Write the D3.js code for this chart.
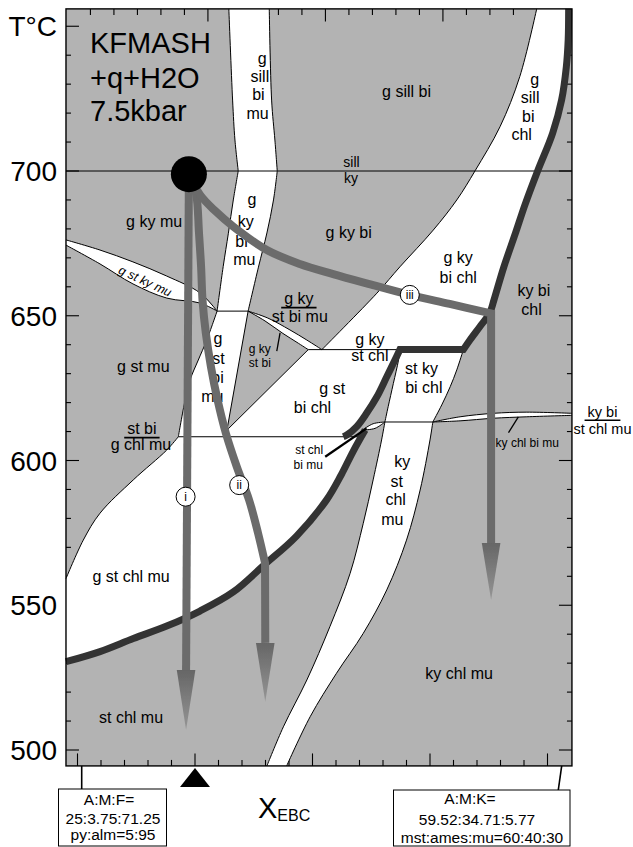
<!DOCTYPE html>
<html><head><meta charset="utf-8">
<script src="https://cdn.jsdelivr.net/npm/d3@7"></script>
<style>
html,body{margin:0;padding:0;background:#fff;}
svg{display:block;font-family:"Liberation Sans",Arial,Helvetica,sans-serif;}
</style></head><body>
<svg id="chart" width="633" height="847"></svg>
<script>
// ---- axes: composition X (0..100 along X_EBC) and temperature T (°C) ----
const xDomain = [-2.45, 105.2];
const tDomain = [494.5, 756];
const tempTicks = d3.range(500, 751, 10);
const tempMajor = [500, 550, 600, 650, 700, 750];
const tempLabels = ["500", "550", "600", "650", "700", "T°C"];
const compTicks = d3.range(0, 101, 5);
const compMajor = [0, 25, 50, 75, 100];
const topTicks = d3.range(2.75, 103, 5);
const topMajor = [27.75, 52.75, 77.75];
const bulkX = 25;
const sillKyT = 700;

// ---- field boundaries, [X, T] ----
const gSillBiMuL = [[32.2,756],[33.0,724.5],[33.5,710.7],[34.2,700]];
const gSillBiMuR = [[40.8,756],[41.3,724.5],[42.0,710.7],[42.5,700]];
const gKyBiMuL = [[34.2,700],[33.15,690],[32.1,678.5],[31.0,667],[29.7,651.6]];
const gKyBiMuR = [[42.5,700],[41.7,690],[40.3,678.6],[38.5,666.8],[36.3,651.6]];
const gStBiMuL = [[29.7,651.6],[27.5,641.6],[25.7,634.7],[23.94,627.8],[22.9,620.9],[21.45,608.2]];
const gStBiMuR = [[36.3,651.6],[31.8,610.5],[32.0,608.2]];
const gStKyMuUp = [[-2.45,676.2],[4.79,672.7],[11.8,668.6],[19.0,663.7],[26.06,657.9],[29.7,651.6]];
const gStKyMuLo = [[-2.45,674.4],[4.79,667.9],[11.8,661.0],[19.0,656.1],[26.06,654.4],[29.7,651.6]];
const gKyStBiMuUp = [[36.3,651.6],[40.5,649.2],[45.2,645.1],[48.8,641.6],[52.0,638.3]];
const gKyStBiMuLo = [[36.3,651.6],[39.9,648.2],[43.7,643.9],[46.7,640.8],[49.1,638.3]];
const gKyStChlT = 638.3;
const stChlSplit = [[49.1,638.3],[31.8,610.5]];
const stBiGChlMuT = 608.2;
const gStMuEdge = [[21.45,608.2],[18.98,603.6],[11.87,593.3],[4.79,581.8],[1.23,572.5],[-2.45,559.2]];
const biChlEdge = [[52.0,638.3],[63.7,657.8],[68.6,666.9],[75.7,679.6],[80.7,690.0],[84.6,700.1],[89.9,715.3],[94.1,732.6],[97.7,756]];
const thickUpperA = [[104.5,756],[104.4,745.3],[104.0,735.9],[103.0,724.5],[101.1,713.1],[97.9,700],[95.2,688.3],[93.2,678.6],[90.7,666.8],[88.6,655.4],[87.7,650.9],[85.6,646.2],[83.5,641.6],[82.1,638.3]];
const thickUpperB = [[68.6,638.3],[67.9,635.9],[65.8,628.9],[63.7,622.0],[61.5,616.3],[59.4,611.7],[57.3,608.8],[56.55,608.2]];
const thickLower = [[-2.45,530.5],[4.79,534.0],[11.87,538.5],[18.98,542.8],[26.06,548.0],[33.15,554.6],[39.5,563.6],[46.6,573.9],[53.0,586.4],[56.1,595.0],[58.6,603.0],[61.2,610.5]];
const stKyBiChlL = [[68.6,638.3],[68.3,634.7],[67.2,626.6],[66.1,618.6],[65.4,613.3]];
const stKyBiChlR = [[82.1,638.3],[80.7,631.3],[79.3,625.5],[77.5,619.2],[75.6,613.3]];
const kyStChlMuL = [[65.4,613.3],[64.7,607.1],[62.9,593.3],[60.8,578.3],[58.0,561.0],[53.7,542.6],[48.8,524.2],[43.8,508.0],[40.3,494.5]];
const kyStChlMuR = [[75.6,613.3],[75.0,607.1],[72.9,589.8],[70.0,572.5],[65.8,555.3],[60.8,540.3],[55.1,526.5],[49.5,511.5],[44.5,494.5]];
const stChlBiMuUp = [[60.6,610.5],[62.9,612.7],[65.4,613.3]];
const stChlBiMuLo = [[60.6,610.5],[63.3,611.1],[65.4,613.3]];
const kyChlBiMuUp = [[75.6,613.3],[81.4,615.1],[88.5,616.3],[95.6,616.7],[105.2,616.3]];
const kyChlBiMuLo = [[75.6,613.3],[81.4,613.7],[88.5,614.6],[95.6,615.1],[105.2,615.6]];

// ---- P-T-X paths from the starting point ----
const startPt = [23.7, 698.9];
const pathI = [[23.7,698.9],[23.1,527.6]];
const pathIHead = [[23.1,527.6],[23.1,506.9]];
const pathII = [[23.7,698.9],[25.2,692.4],[25.85,678.6],[26.3,666.8],[26.6,655.4],[27.3,644.0],[28.4,632.3],[29.8,620.9],[31.55,609.5],[33.9,597.8],[36.5,586.4],[38.4,575.0],[39.9,564.6]];
const pathIIHead = [[39.95,537.0],[39.95,516.7]];
const pathIII = [[23.7,698.9],[26.1,691.7],[29.3,686.2],[33.15,680.8],[40.3,672.7],[47.3,667.9],[54.4,664.4],[61.5,661.2],[70.7,657.2],[79.2,654.1],[88.0,650.8]];
const pathIIIHead = [[88.0,571.5],[88.0,551.8]];
const pathMarks = [["i",23.0,587.5],["ii",34.4,591.5],["iii",70.7,657.2]];

// ---- field labels: [text, X, T, size, underline] ----
const fieldLabels = [
  ["g",39.3,737.1,"f"],["sill",38.8,730.7,"f"],["bi",38.5,724.4,"f"],["mu",38.3,718.0,"f"],
  ["g sill bi",70.0,725.6,"f"],
  ["g",97.3,729.7,"f"],["sill",96.3,723.5,"f"],["bi",95.9,717.0,"f"],["chl",94.5,710.7,"f"],
  ["sill",58.3,701.5,"m"],["ky",58.2,696.0,"m"],
  ["g",37.1,688.3,"f"],["ky",35.8,680.7,"f"],["bi",34.9,673.9,"f"],["mu",35.5,667.5,"f"],
  ["g ky mu",16.3,680.7,"f"],
  ["g ky bi",57.7,676.8,"f"],
  ["g ky",81.0,668.1,"f"],["bi chl",81.0,661.2,"f"],
  ["ky bi",97.1,656.8,"f"],["chl",96.6,650.3,"f"],
  ["g ky",47.1,654.0,"f",1],["st bi mu",47.3,648.0,"f"],
  ["g ky",38.8,637.2,"s"],["st bi",38.8,632.4,"s"],
  ["g",29.9,640.2,"f"],["st",30.0,633.2,"f"],["bi",29.8,626.7,"f"],["mu",28.7,620.3,"f"],
  ["g ky",62.2,639.9,"f"],["st chl",62.2,634.5,"f"],
  ["g st",54.2,623.0,"f"],["bi chl",50.0,616.5,"f"],
  ["st ky",73.2,629.9,"f"],["bi chl",73.7,623.2,"f"],
  ["ky",69.1,597.9,"f"],["st",67.9,591.0,"f"],["chl",67.7,584.6,"f"],["mu",67.0,577.7,"f"],
  ["ky chl bi mu",95.7,604.8,"s"],
  ["ky bi",111.7,615.1,"e",1],["st chl mu",111.7,609.2,"e"],
  ["g st mu",14.0,630.7,"f"],
  ["st bi",13.7,609.1,"f",1],["g chl mu",13.5,603.6,"f"],
  ["st chl",49.3,602.1,"s"],["bi mu",49.1,597.0,"s"],
  ["ky chl mu",81.2,524.5,"f"],
  ["g st chl mu",11.4,558.1,"f"],
  ["st chl mu",11.4,509.4,"f"]
];
const labelSize = { f: 16, e: 14.5, m: 14, s: 12 };
const slantLabel = ["g st ky mu", 14.4, 662.0, 25];
const pointers = [
  [[43.1,644.1],[42.4,637.8],1],
  [[93.8,615.1],[91.7,609.6],1],
  [[52.7,601.3],[61.5,611.1],2]
];

// ---- scales ----
const svg = d3.select("#chart");
const x = d3.scaleLinear().domain([0, 100]).range([77.5, 547.5]);
const y = d3.scaleLinear().domain([500, 700]).range([750, 171]);
const fL = x(xDomain[0]), fR = x(xDomain[1]);
const fT = y(tDomain[1]), fB = y(tDomain[0]);

const lin = d3.line().x(d => x(d[0])).y(d => y(d[1]));
const crv = d3.line().x(d => x(d[0])).y(d => y(d[1])).curve(d3.curveCatmullRom.alpha(0.5));
const rev = a => a.slice().reverse();
function chain(parts) {
  return parts.map((p, i) => {
    const s = (p[1] ? crv : lin)(p[0]);
    return i ? s.replace(/^M/, "L") : s;
  }).join("");
}

const GRAY = "#b3b3b3", DARK = "#333333", PATH = "#6b6b6b";
const defs = svg.append("defs");
const grad = defs.append("linearGradient").attr("id", "headFill")
  .attr("x1", 0).attr("y1", 0).attr("x2", 0).attr("y2", 1);
grad.append("stop").attr("offset", 0).attr("stop-color", "#666");
grad.append("stop").attr("offset", 1).attr("stop-color", "#959595");
defs.append("filter").attr("id", "soft").attr("x", "-30%").attr("y", "-10%").attr("width", "160%").attr("height", "120%")
  .append("feGaussianBlur").attr("stdDeviation", 0.6);

// background field
svg.append("rect").attr("x", fL).attr("y", fT).attr("width", fR - fL).attr("height", fB - fT).attr("fill", GRAY);

// ticks
const tk = svg.append("g").attr("stroke", "#000").attr("stroke-width", 1.1);
tempTicks.forEach(t => {
  const L = tempMajor.includes(t) ? 13 : 5;
  tk.append("line").attr("x1", fL).attr("x2", fL + L).attr("y1", y(t)).attr("y2", y(t));
  tk.append("line").attr("x1", fR).attr("x2", fR - L).attr("y1", y(t)).attr("y2", y(t));
});
compTicks.forEach(v => {
  const L = compMajor.includes(v) ? 12.5 : 6;
  tk.append("line").attr("x1", x(v)).attr("x2", x(v)).attr("y1", fB).attr("y2", fB - L);
});
topTicks.forEach(v => {
  const L = topMajor.includes(v) ? 12.5 : 6;
  tk.append("line").attr("x1", x(v)).attr("x2", x(v)).attr("y1", fT).attr("y2", fT + L);
});

// white (narrow) fields
const gThick = thickLower.filter(d => d[1] < stBiGChlMuT);
const whitePaths = [
  chain([[gSillBiMuL,1],[gKyBiMuL,1],[gStBiMuL,1],[[[21.45,stBiGChlMuT],[32.0,stBiGChlMuT]],0],[rev(gStBiMuR),0],[rev(gKyBiMuR),1],[rev(gSillBiMuR),1]]) + "Z",
  chain([[gStKyMuUp,1],[rev(gStKyMuLo),1]]) + "Z",
  chain([[gKyStBiMuUp,1],[rev(gKyStBiMuLo),1]]) + "Z",
  chain([[[stChlSplit[0], stChlSplit[1], [32.0,stBiGChlMuT], [56.55,stBiGChlMuT]],0],[rev(thickUpperB),1],[[[68.6,gKyStChlT],[82.1,gKyStChlT]],0],[rev(thickUpperA),1],[[[104.5,756],[97.7,756]],0],[rev(biChlEdge),1]]) + "Z",
  chain([[gStMuEdge,1],[[[-2.45,559.2],[-2.45,530.5]],0],[gThick,1],[[gThick[gThick.length-1],[60.4,stBiGChlMuT]],0]]) + "Z",
  chain([[[[68.6,gKyStChlT],[82.1,gKyStChlT]],0],[stKyBiChlR,1],[[[75.6,613.3],[65.4,613.3]],0],[rev(stKyBiChlL),1]]) + "Z",
  chain([[kyStChlMuL,1],[[[40.3,494.5],[44.5,494.5]],0],[rev(kyStChlMuR),1]]) + "Z",
  chain([[stChlBiMuUp,1],[rev(stChlBiMuLo),1]]) + "Z",
  chain([[kyChlBiMuUp,1],[[[105.2,616.3],[105.2,615.6]],0],[rev(kyChlBiMuLo),1]]) + "Z"
];
svg.append("g").selectAll("path").data(whitePaths).join("path").attr("d", d => d).attr("fill", "#fff");

// thin reaction lines
const thinLines = [
  lin([[xDomain[0], sillKyT],[xDomain[1], sillKyT]]),
  crv(gSillBiMuL), crv(gSillBiMuR), crv(gKyBiMuL), crv(gKyBiMuR), crv(gStBiMuL), lin(gStBiMuR),
  lin([[29.7,651.6],[36.3,651.6]]),
  crv(gStKyMuUp), crv(gStKyMuLo), crv(gKyStBiMuUp), crv(gKyStBiMuLo),
  lin([[49.1,gKyStChlT],[68.6,gKyStChlT]]), lin(stChlSplit),
  lin([[21.45,stBiGChlMuT],[60.4,stBiGChlMuT]]),
  crv(gStMuEdge), crv(biChlEdge), crv(stKyBiChlL), crv(stKyBiChlR),
  lin([[65.4,613.3],[75.6,613.3]]), crv(kyStChlMuL), crv(kyStChlMuR),
  crv(stChlBiMuUp), crv(stChlBiMuLo), crv(kyChlBiMuUp), crv(kyChlBiMuLo)
];
svg.append("g").selectAll("path").data(thinLines).join("path").attr("d", d => d)
  .attr("fill", "none").attr("stroke", "#000").attr("stroke-width", 1);

// thick boundaries
svg.append("path").attr("d", chain([[thickUpperA,1],[[[82.1,gKyStChlT],[68.6,gKyStChlT]],0],[thickUpperB,1]]))
  .attr("fill", "none").attr("stroke", DARK).attr("stroke-width", 7).attr("stroke-linejoin", "miter");
svg.append("path").attr("d", crv(thickLower))
  .attr("fill", "none").attr("stroke", DARK).attr("stroke-width", 7);

// pointer ticks
svg.append("g").selectAll("line").data(pointers).join("line")
  .attr("x1", d => x(d[0][0])).attr("y1", d => y(d[0][1]))
  .attr("x2", d => x(d[1][0])).attr("y2", d => y(d[1][1]))
  .attr("stroke", "#000").attr("stroke-width", d => d[2] + 0.3);

// labels
const lab = svg.append("g").attr("fill", "#000").attr("text-anchor", "middle");
lab.selectAll("text").data(fieldLabels).join("text")
  .attr("x", d => x(d[1])).attr("y", d => y(d[2]))
  .attr("font-size", d => labelSize[d[3]])
  .text(d => d[0])
  .each(function(d) {
    if (!d[4]) return;
    const w = this.getComputedTextLength() + 6;
    lab.append("line").attr("x1", x(d[1]) - w / 2).attr("x2", x(d[1]) + w / 2)
      .attr("y1", y(d[2]) + 3.5).attr("y2", y(d[2]) + 3.5)
      .attr("stroke", "#000").attr("stroke-width", 1.6);
  });
lab.append("text").attr("transform", `translate(${x(slantLabel[1])},${y(slantLabel[2])}) rotate(${slantLabel[3]})`)
  .attr("dy", "0.35em").attr("font-size", 12.5).attr("font-style", "italic").text(slantLabel[0]);

// P-T-X paths
const pg = svg.append("g").attr("fill", "none").attr("stroke", PATH).attr("stroke-width", 8);
pg.append("path").attr("d", lin(pathI));
pg.append("path").attr("d", chain([[pathII,1],[[pathII[pathII.length-1], pathIIHead[0]],0]]));
pg.append("path").attr("d", chain([[pathIII,1],[[pathIII[pathIII.length-1], pathIIIHead[0]],0]])).attr("stroke-linejoin", "miter");
[pathIHead, pathIIHead, pathIIIHead].forEach(h => {
  const bx = x(h[0][0]), by = y(h[0][1]), ty = y(h[1][1]);
  svg.append("path").attr("d", `M${bx - 9.3},${by}L${bx + 9.3},${by}L${bx},${ty}Z`)
    .attr("fill", "url(#headFill)").attr("filter", "url(#soft)");
});
const mk = svg.append("g").selectAll("g").data(pathMarks).join("g")
  .attr("transform", d => `translate(${x(d[1])},${y(d[2])})`);
mk.append("circle").attr("r", 9.5).attr("fill", "#fff").attr("stroke", "#000").attr("stroke-width", 1);
mk.append("text").attr("text-anchor", "middle").attr("dy", "0.36em").attr("font-size", 12).text(d => d[0]);
svg.append("circle").attr("cx", x(startPt[0])).attr("cy", y(startPt[1])).attr("r", 18).attr("fill", "#000");

// frame
svg.append("rect").attr("x", fL).attr("y", fT).attr("width", fR - fL).attr("height", fB - fT)
  .attr("fill", "none").attr("stroke", "#000").attr("stroke-width", 1.4);

// temperature labels
svg.append("g").selectAll("text").data(tempMajor).join("text")
  .attr("x", 57).attr("y", d => y(d)).attr("dy", "0.36em")
  .attr("text-anchor", "end").attr("font-size", 28)
  .text((d, i) => tempLabels[i]);

// system label
const sys = svg.append("text").attr("font-size", 29).attr("x", 90);
[["KFMASH", 53], ["+q+H2O", 88], ["7.5kbar", 121]].forEach(s =>
  sys.append("tspan").attr("x", 90).attr("y", s[1]).text(s[0]));

// composition axis
svg.append("path").attr("d", `M${x(bulkX)},${fB + 2}L${x(bulkX) + 15},${fB + 21}L${x(bulkX) - 15},${fB + 21}Z`).attr("fill", "#000");
const xl = svg.append("text").attr("x", 258).attr("y", 818);
xl.append("tspan").attr("font-size", 29).text("X");
xl.append("tspan").attr("font-size", 16).attr("dy", 3).text("EBC");

// end-member compositions
svg.append("line").attr("x1", 81.7).attr("x2", 81.7).attr("y1", fB).attr("y2", 789).attr("stroke", "#000").attr("stroke-width", 1.6);
svg.append("line").attr("x1", 561.7).attr("x2", 558.3).attr("y1", fB).attr("y2", 790).attr("stroke", "#000").attr("stroke-width", 1.6);
svg.append("rect").attr("x", 58.5).attr("y", 789).attr("width", 108).attr("height", 57).attr("fill", "#fff").attr("stroke", "#000").attr("stroke-width", 1);
svg.append("rect").attr("x", 393.5).attr("y", 790).attr("width", 176.5).attr("height", 56).attr("fill", "#fff").attr("stroke", "#000").attr("stroke-width", 1);
const boxText = [["A:M:F=",109,805],["25:3.75:71.25",113,824],["py:alm=5:95",113,840],
  ["A:M:K=",470,804],["59.52:34.71:5.77",477,824.5],["mst:ames:mu=60:40:30",482,843]];
svg.append("g").selectAll("text").data(boxText).join("text")
  .attr("x", d => d[1]).attr("y", d => d[2]).attr("text-anchor", "middle").attr("font-size", 15.5)
  .text(d => d[0]);
</script>
</body></html>
